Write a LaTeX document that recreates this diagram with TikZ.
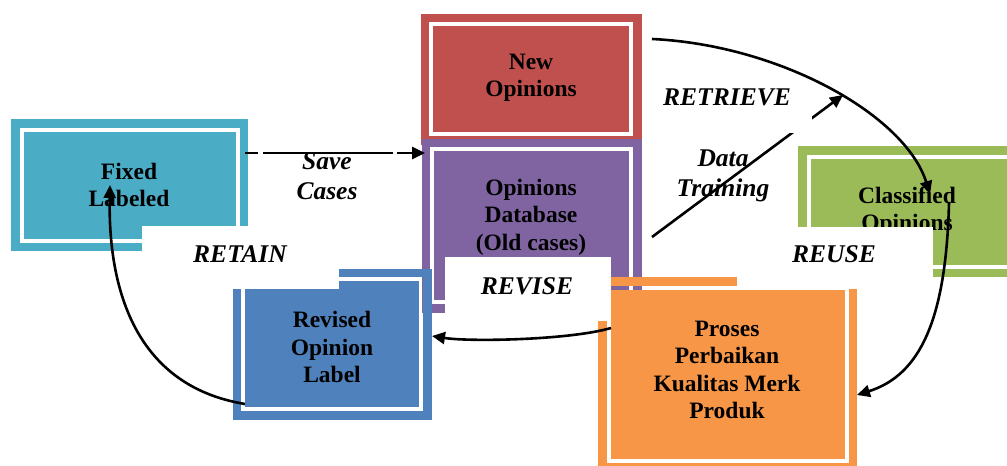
\documentclass[tikz,border=0pt]{standalone}
\usepackage{fontspec}
\setmainfont{Liberation Serif}
\usetikzlibrary{arrows.meta,calc}
\definecolor{cteal}{HTML}{4BACC6}
\definecolor{cred}{HTML}{C0504D}
\definecolor{cpurple}{HTML}{8064A2}
\definecolor{cgreen}{HTML}{9BBB59}
\definecolor{cblue}{HTML}{4F81BD}
\definecolor{corange}{HTML}{F79646}
\newcommand\drawframe[2]{\draw[line width=8.5pt, draw=#2] ([shift={(-8.25pt,8.25pt)}]#1.north west) rectangle ([shift={(8.25pt,-8.25pt)}]#1.south east);}
\begin{document}
\begin{tikzpicture}[x=1pt,y=-1pt,
  boxfill/.style={rectangle, inner sep=0pt, outer sep=0pt, fill=#1, draw=none},
  boxtext/.style={font=\fontsize{23.5}{27.5}\selectfont\bfseries, align=center, inner sep=0pt},
  lbltext/.style={font=\fontsize{25.5}{30}\selectfont\bfseries\itshape, align=center, inner sep=0pt},
  whitebox/.style={rectangle, fill=white, draw=none, inner sep=0pt, outer sep=0pt},
  conn/.style={line width=2.6pt, -{Triangle[length=13pt,width=12pt]}},
]
\useasboundingbox (0,0) rectangle (1007,466);
\fill[white] (0,0) rectangle (1007,466);
\clip (0,0) rectangle (1007,466);

% New Opinions (red)
\node[boxfill=cred, minimum width=196pt, minimum height=106pt] (redbox) at (531,79) {};
\drawframe{redbox}{cred}
\node[boxtext] (redtxt) at (531,78) {New\\Opinions};

% Opinions Database (purple)
\node[boxfill=cpurple, minimum width=195pt, minimum height=149pt] (purbox) at (531.5,225.5) {};
\drawframe{purbox}{cpurple}
\node[boxtext] (purtxt) at (531,217) {Opinions\\Database\\(Old cases)};

% Revised Opinion Label (blue)
\node[boxfill=cblue, minimum width=174pt, minimum height=126pt] (revbox) at (332,344) {};
\drawframe{revbox}{cblue}
\node[boxtext] (revtxt) at (332,347) {Revised\\Opinion\\Label};

% Fixed Labeled (teal)
\node[boxfill=cteal, minimum width=212pt, minimum height=107pt] (fixbox) at (129.5,185) {};
\drawframe{fixbox}{cteal}
\node[boxtext] (fixtxt) at (129,185) {Fixed\\Labeled};

% Proses Perbaikan (orange)
\node[boxfill=corange, minimum width=234pt, minimum height=169.5pt] (orgbox) at (727.5,374.25) {};
\drawframe{orgbox}{corange}
\node[boxtext] (orgtxt) at (727,370) {Proses\\Perbaikan\\Kualitas Merk\\Produk};

% Classified Opinions (green)
\node[boxfill=cgreen, minimum width=219.5pt, minimum height=106pt] (grnbox) at (920.25,211.5) {};
\drawframe{grnbox}{cgreen}
\node[boxtext] (grntxt) at (907,211) {Classified\\Opinions};

% label boxes
\node[whitebox, minimum width=197pt, minimum height=63pt] (retainbg) at (240.5,257.5) {};
\node[lbltext] (retain) at (240,254) {RETAIN};
\node[whitebox, minimum width=166pt, minimum height=64pt] (revisebg) at (528,289) {};
\node[lbltext] (revise) at (527,286) {REVISE};
\node[whitebox, minimum width=196pt, minimum height=62pt] (reusebg) at (835,258) {};
\node[lbltext] (reuse) at (834,254) {REUSE};

\node[lbltext] (save) at (327,176) {Save\\Cases};
\node[lbltext] (dtrain) at (723,176) {Data\\Training};

% Data Training arrow (partly hidden by the RETRIEVE box)
\coordinate (dtend) at (843,95);
\draw[conn] ($(purbox.north east)+(23,86)$) -- (dtend);

\node[whitebox, minimum width=167pt, minimum height=53pt] (retrievebg) at (728.5,106.5) {};
\node[lbltext] (retrieve) at (727,97) {RETRIEVE};

% connectors
\draw[conn, dash pattern=on 13pt off 5pt on 130pt off 4pt on 300pt off 1pt]
  ($(fixbox.north east)+(9.5,21.5)$) -- ($(purbox.north west)+(-9,2)$);
\draw[conn] ($(redbox.north east)+(23,13)$) .. controls (780,45) and (905,115) .. ($(grnbox.north west)+(119.5,35.5)$);
\draw[conn] ($(grnbox.north west)+(138.5,44.5)$) .. controls (946,320) and (920,375) .. ($(orgbox.north east)+(12.5,105.5)$);
\draw[conn] ($(orgbox.north west)+(0.5,38.5)$) .. controls (570,340) and (470,342) .. ($(revbox.north east)+(13,55)$);
\draw[conn] ($(revbox.south west)+(0,-3)$) .. controls (130,385) and (108,280) .. ($(fixbox.south west)+(86.5,-53.5)$);
\end{tikzpicture}
\end{document}
